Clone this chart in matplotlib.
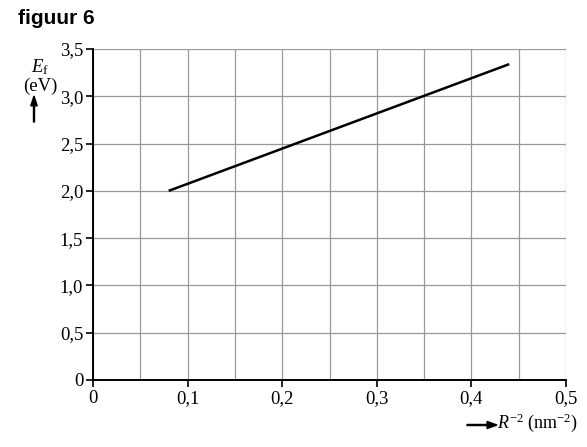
import numpy as np
import matplotlib.pyplot as plt

# data
r_inv_sq = [0.08, 0.44]      # R^-2 (nm^-2)
e_f = [2.00, 3.34]           # Ef (eV)

x_ticks = [0, 0.1, 0.2, 0.3, 0.4, 0.5]
x_labels = ['0', '0,1', '0,2', '0,3', '0,4', '0,5']
y_ticks = [0, 0.5, 1.0, 1.5, 2.0, 2.5, 3.0, 3.5]
y_labels = ['0', '0,5', '1,0', '1,5', '2,0', '2,5', '3,0', '3,5']

plt.rcParams['font.family'] = ['Liberation Serif', 'DejaVu Serif']
plt.rcParams['mathtext.fontset'] = 'custom'
plt.rcParams['mathtext.rm'] = 'Liberation Serif'
plt.rcParams['mathtext.it'] = 'Liberation Serif:italic'

fig = plt.figure(figsize=(5.87, 4.47), dpi=100)
ax = fig.add_axes([93/587, 1-380/447, 473/587, 331/447])

ax.plot(r_inv_sq, e_f, color='black', lw=1.8, solid_capstyle='butt')

ax.set_xlim(0, 0.5)
ax.set_ylim(0, 3.5)
ax.set_xticks(x_ticks)
ax.set_xticklabels(x_labels)
ax.set_yticks(y_ticks)
ax.set_yticklabels(y_labels)
ax.set_xticks(np.arange(0, 0.51, 0.05), minor=True)
ax.tick_params(axis='both', which='major', direction='out', length=5, width=1.2,
               labelsize=13.5, color='black', pad=2)
ax.tick_params(axis='both', which='minor', length=0)

ax.grid(True, which='both', axis='x', color='#999999', lw=0.9)
ax.grid(True, which='major', axis='y', color='#999999', lw=0.9)
ax.set_axisbelow(True)

for s in ['top', 'right']:
    ax.spines[s].set_visible(False)
for s in ['left', 'bottom']:
    ax.spines[s].set_linewidth(1.4)
    ax.spines[s].set_color('black')

# title
fig.text(18/587, 1-19/447, 'figuur 6', fontsize=15, fontweight='bold',
         family=['Liberation Sans', 'DejaVu Sans'], va='center', ha='left')

# y label (two lines in one text)
fig.text(40/587, 1-76/447, r'$E_{\mathrm{f}}$' + '\n(eV)', fontsize=13.5,
         ha='center', va='center', multialignment='center', linespacing=1.0)
fig.patches.append(plt.matplotlib.patches.FancyArrow(
    34/587, 1-122/447, 0, 26/447, width=0.0017, head_width=0.011, head_length=0.022,
    length_includes_head=True, color='black', transform=fig.transFigure))

# x label
fig.patches.append(plt.matplotlib.patches.FancyArrow(
    467/587, 1-425/447, 30/587, 0, width=0.0024, head_width=0.016, head_length=0.017,
    length_includes_head=True, color='black', transform=fig.transFigure))
fig.text(497/587, 1-423/447, r'$R^{-2}$ (nm$^{-2}$)', fontsize=13, ha='left', va='center')

fig.savefig('out.png', dpi=100)
